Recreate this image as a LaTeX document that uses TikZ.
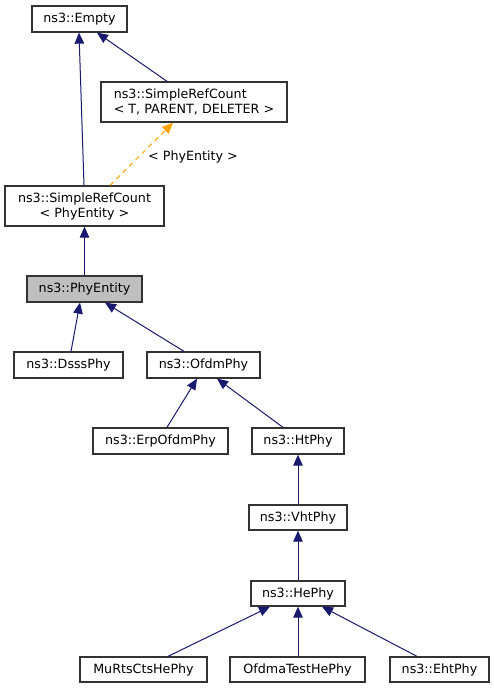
\documentclass[tikz,border=0pt]{standalone}
\usepackage{fontspec}
\setmainfont{DejaVu Sans}
\usetikzlibrary{arrows.meta}
\definecolor{edgeblue}{HTML}{191970}
\definecolor{boxline}{HTML}{333333}
\definecolor{graybox}{HTML}{BFBFBF}
\definecolor{tmplorange}{HTML}{FFA500}
\begin{document}
\begin{tikzpicture}[x=1pt,y=-1pt,
  cls/.style={draw=boxline,line width=1.3pt,fill=white,rectangle,inner sep=0pt,
    font=\fontsize{12.7}{15}\selectfont,text=black},
  inh/.style={draw=edgeblue,line width=1pt,-{Triangle[length=11pt,width=9.5pt]},color=edgeblue},
  tmpl/.style={draw=tmplorange,line width=1pt,dashed,dash pattern=on 5pt off 4pt,
    -{Triangle[length=11pt,width=9.5pt]},color=tmplorange}]
\useasboundingbox (0,0) rectangle (494,688);
\node[cls,minimum width=95pt,minimum height=26pt] (empty) at (79.5,19) {ns3::Empty};
\node[cls,minimum width=186pt,minimum height=40pt,align=left] (srct) at (194,102) {ns3::SimpleRefCount\\< T, PARENT, DELETER >};
\node[cls,minimum width=159pt,minimum height=40pt,align=center] (srcpe) at (84.5,206) {ns3::SimpleRefCount\\< PhyEntity >};
\node[cls,fill=graybox,minimum width=115pt,minimum height=26pt] (phy) at (84.5,289) {ns3::PhyEntity};
\node[cls,minimum width=109pt,minimum height=26pt] (dsss) at (68.5,365) {ns3::DsssPhy};
\node[cls,minimum width=113pt,minimum height=26pt] (ofdm) at (203.5,365) {ns3::OfdmPhy};
\node[cls,minimum width=135pt,minimum height=26pt] (erp) at (160.5,441) {ns3::ErpOfdmPhy};
\node[cls,minimum width=92pt,minimum height=26pt] (ht) at (298,441) {ns3::HtPhy};
\node[cls,minimum width=98pt,minimum height=25pt] (vht) at (298,517.5) {ns3::VhtPhy};
\node[cls,minimum width=94pt,minimum height=25pt] (he) at (298,593.5) {ns3::HePhy};
\node[cls,minimum width=127pt,minimum height=25pt] (murts) at (143.5,669.5) {MuRtsCtsHePhy};
\node[cls,minimum width=135pt,minimum height=25pt] (ofdma) at (297.5,669.5) {OfdmaTestHePhy};
\node[cls,minimum width=99pt,minimum height=25pt] (eht) at (439.5,669.5) {ns3::EhtPhy};

\draw[inh] ([xshift=-0.5pt]srcpe.north) -- ([xshift=-0.5pt]empty.south);
\draw[inh] ([xshift=-27pt]srct.north) -- ([xshift=17.5pt]empty.south);
\draw[tmpl] ([xshift=25.5pt]srcpe.north) -- node[right=6pt,pos=0.45,text=black,font=\fontsize{12.7}{15}\selectfont] (lbl) {< PhyEntity >} ([xshift=-21pt]srct.south);
\draw[inh] (phy.north) -- (srcpe.south);
\draw[inh] ([xshift=2.5pt]dsss.north) -- ([xshift=-4.5pt]phy.south);
\draw[inh] ([xshift=-19.5pt]ofdm.north) -- ([xshift=20.5pt]phy.south);
\draw[inh] ([xshift=6.5pt]erp.north) -- ([xshift=-6.5pt]ofdm.south);
\draw[inh] ([xshift=-15pt]ht.north) -- ([xshift=13.5pt]ofdm.south);
\draw[inh] (vht.north) -- (ht.south);
\draw[inh] (he.north) -- (vht.south);
\draw[inh] ([xshift=24.5pt]murts.north) -- ([xshift=-28pt]he.south);
\draw[inh] ([xshift=0.5pt]ofdma.north) -- (he.south);
\draw[inh] ([xshift=-22.5pt]eht.north) -- ([xshift=24pt]he.south);
\end{tikzpicture}
\end{document}
